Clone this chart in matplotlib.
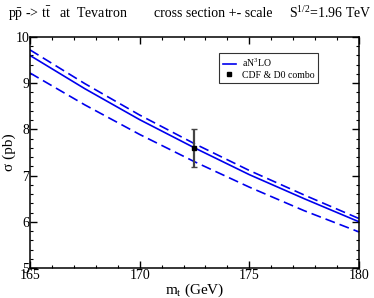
import numpy as np
import matplotlib
matplotlib.use("Agg")
import matplotlib.pyplot as plt
from matplotlib.ticker import MultipleLocator
from matplotlib.lines import Line2D

plt.rcParams['font.family'] = 'Liberation Serif'
plt.rcParams['mathtext.fontset'] = 'custom'
plt.rcParams['mathtext.rm'] = 'Liberation Serif'
plt.rcParams['mathtext.it'] = 'Liberation Serif:italic'

# aN3LO cross section vs top mass
mt = [165, 167.5, 170, 172.5, 175, 177.5, 180]
sig_central = [9.60, 8.88, 8.21, 7.60, 7.02, 6.50, 6.00]
sig_up = [9.72, 8.99, 8.31, 7.69, 7.11, 6.58, 6.07]
sig_down = [9.22, 8.53, 7.89, 7.30, 6.75, 6.24, 5.78]

# CDF & D0 combination
exp_mt = [172.5]
exp_sig = [7.60]
exp_err = [0.41]

fig = plt.figure(figsize=(3.74, 2.98), dpi=100)
ax = fig.add_axes([0.0802, 0.1007, 0.8797, 0.7753])

blue = '#0000ee'
ax.plot(mt, sig_central, color=blue, lw=1.2)
ax.plot(mt, sig_up, color=blue, lw=1.2, dashes=(6, 3))
ax.plot(mt, sig_down, color=blue, lw=1.2, dashes=(6, 3))
ax.errorbar(exp_mt, exp_sig, yerr=exp_err, fmt='s', color='black', ms=3,
            ecolor='#444444', elinewidth=1.6, capsize=2.5, capthick=1.0,
            zorder=5)

ax.set_xlim(165, 180)
ax.set_ylim(5, 10)
ax.xaxis.set_major_locator(MultipleLocator(5))
ax.xaxis.set_minor_locator(MultipleLocator(1))
ax.yaxis.set_major_locator(MultipleLocator(1))
ax.yaxis.set_minor_locator(MultipleLocator(0.2))
ax.tick_params(which='both', direction='in', top=True, right=True, labelsize=10, pad=0.5)
ax.tick_params(which='major', length=5, width=1.0)
ax.tick_params(which='minor', length=2.5, width=0.8)
for s in ax.spines.values():
    s.set_linewidth(1.1)

ax.set_xlabel(r'm$_\mathrm{t}$ (GeV)', fontsize=11, labelpad=0)
ax.set_ylabel('σ (pb)', fontsize=11)
ax.yaxis.set_label_coords(-0.042, 0.5)

handles = [Line2D([], [], color=blue, lw=1.2),
           Line2D([], [], ls='none', marker='s', color='black', ms=3)]
leg = ax.legend(handles, [r'aN$^3$LO', 'CDF & D0 combo'], loc='upper left',
                bbox_to_anchor=(0.575, 0.93), fontsize=7,
                frameon=True, fancybox=False, edgecolor='black',
                handlelength=1.4, handletextpad=0.6, borderpad=0.35,
                labelspacing=0.2, numpoints=1, borderaxespad=0)
leg.get_frame().set_linewidth(0.8)

fig.text(0.021, 0.955, r'$\mathrm{p\bar{p}}$ -> $\mathrm{t\bar{t}}$   at  Tevatron', fontsize=10, va='center')
fig.text(0.413, 0.955, 'cross section +- scale', fontsize=10, va='center')
fig.text(0.772, 0.955, r'S$^{1/2}$=1.96 TeV', fontsize=10, va='center')

fig.savefig('out.png', dpi=100)
